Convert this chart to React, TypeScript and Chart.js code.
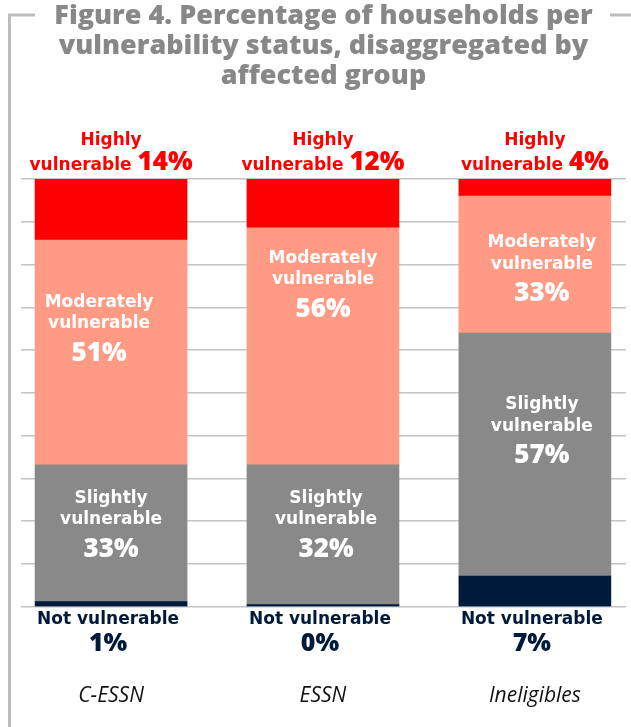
import React, { useEffect, useRef } from 'react';
import { Chart, registerables } from 'chart.js';

Chart.register(...registerables);

// ---------- data ----------
const categories = ['C-ESSN', 'ESSN', 'Ineligibles'];
const seriesNames = ['Not vulnerable', 'Slightly vulnerable', 'Moderately vulnerable', 'Highly vulnerable'];
const notVulnerable = [1.2, 0.5, 7.2];
const slightlyVulnerable = [32.0, 32.7, 56.8];
const moderatelyVulnerable = [52.5, 55.4, 32.0];
const highlyVulnerable = [14.3, 11.4, 4.0];
const notVulnerableLabels = ['1%', '0%', '7%'];
const slightlyLabels = ['33%', '32%', '57%'];
const moderatelyLabels = ['51%', '56%', '33%'];
const highlyLabels = ['14%', '12%', '4%'];
const titleLines = [
  'Figure 4. Percentage of households per',
  'vulnerability status, disaggregated by',
  'affected group',
];

// ---------- styles ----------
const colors = ['#001A3B', '#898989', '#FF9B85', '#FF0000'];
const WORD_FONT = '"DejaVu Sans"';
const NUM_FONT = '"Open Sans"';
const GRID_COLOR = '#c4c4c4';
const FRAME_COLOR = '#bdbdbd';
// label nudges [dx, dy from segment centre to first baseline]
const slightlyNudge = [[0, -30.5], [3, -32], [7, -45.5]];
const moderatelyNudge = [[-12, -45.5], [0, -83.5], [7, -17.5]];

const labelPlugin = {
  id: 'labelPlugin',
  beforeDraw(chart: any) {
    const ctx = chart.ctx;
    ctx.save();
    ctx.strokeStyle = FRAME_COLOR;
    ctx.lineWidth = 3;
    ctx.beginPath();
    ctx.moveTo(9.5, 727);
    ctx.lineTo(9.5, 15);
    ctx.lineTo(35, 15);
    ctx.moveTo(610, 15);
    ctx.lineTo(631, 15);
    ctx.stroke();
    ctx.restore();
  },
  afterDatasetsDraw(chart: any) {
    const ctx = chart.ctx;
    const area = chart.chartArea;
    ctx.save();
    ctx.textAlign = 'center';
    ctx.textBaseline = 'alphabetic';
    categories.forEach((_, i) => {
      const bars = [0, 1, 2, 3].map((d) => chart.getDatasetMeta(d).data[i]);
      const cx = bars[0].x;

      // not vulnerable – below bar
      ctx.fillStyle = colors[0];
      ctx.font = `bold 17px ${WORD_FONT}`;
      ctx.fillText(seriesNames[0], cx - 3, area.bottom + 17);
      ctx.font = `800 25px ${NUM_FONT}`;
      ctx.fillText(notVulnerableLabels[i], cx - 3, area.bottom + 44);

      // inside labels
      const inside = (bar: any, nudge: number[], l1: string, pct: string) => {
        const mid = (bar.y + bar.base) / 2;
        const b0 = mid + nudge[1];
        const x = cx + nudge[0];
        ctx.fillStyle = '#ffffff';
        ctx.font = `bold 17px ${WORD_FONT}`;
        ctx.fillText(l1, x, b0);
        ctx.fillText('vulnerable', x, b0 + 21.5);
        ctx.font = `800 26px ${NUM_FONT}`;
        ctx.fillText(pct, x, b0 + 54);
      };
      inside(bars[1], slightlyNudge[i], 'Slightly', slightlyLabels[i]);
      inside(bars[2], moderatelyNudge[i], 'Moderately', moderatelyLabels[i]);

      // highly – above bar
      const top = bars[3].y;
      ctx.fillStyle = colors[3];
      ctx.font = `bold 17px ${WORD_FONT}`;
      ctx.textAlign = 'center';
      ctx.fillText('Highly', cx, top - 34.5);
      const w1 = ctx.measureText('vulnerable ').width;
      ctx.font = `800 26px ${NUM_FONT}`;
      const w2 = ctx.measureText(highlyLabels[i]).width;
      const start = cx - (w1 + w2) / 2;
      ctx.textAlign = 'left';
      ctx.font = `bold 17px ${WORD_FONT}`;
      ctx.fillText('vulnerable ', start, top - 9);
      ctx.font = `800 26px ${NUM_FONT}`;
      ctx.fillText(highlyLabels[i], start + w1, top - 9);
      ctx.textAlign = 'center';
    });
    ctx.restore();
  },
};

export default function App() {
  const ref = useRef<HTMLCanvasElement>(null);
  useEffect(() => {
    document.body.style.margin = '0';
    const series = [notVulnerable, slightlyVulnerable, moderatelyVulnerable, highlyVulnerable];
    const chart = new Chart(ref.current!, {
      type: 'bar',
      data: {
        datasets: series.map((s, d) => ({
          label: seriesNames[d],
          data: s.map((v, i) => ({ x: i, y: v })),
          backgroundColor: colors[d],
          borderWidth: 0,
          barThickness: 152,
        })),
      },
      options: {
        animation: false,
        responsive: false,
        devicePixelRatio: 1,
        layout: { padding: { left: 21, right: 5, top: 0, bottom: 18 } },
        scales: {
          x: {
            type: 'linear',
            stacked: true,
            min: -0.425,
            max: 2.43,
            offset: false,
            grid: {
              display: true,
              drawOnChartArea: false,
              drawTicks: true,
              tickLength: 77,
              color: 'rgba(0,0,0,0)',
            },
            border: { display: false },
            afterBuildTicks: (scale: any) => {
              scale.ticks = categories.map((_, i) => ({ value: i }));
            },
            ticks: {
              autoSkip: false,
              maxRotation: 0,
              padding: 0,
              color: '#111111',
              font: { family: '"Open Sans"', size: 21, style: 'italic' },
              callback: (v: any) => categories[v] ?? '',
            },
          },
          y: {
            stacked: true,
            min: 0,
            max: 100,
            ticks: { display: false, stepSize: 10 },
            grid: { color: GRID_COLOR, lineWidth: 1.5, drawTicks: false },
            border: { display: false },
          },
        },
        plugins: {
          legend: { display: false },
          tooltip: { enabled: false },
          title: {
            display: true,
            text: titleLines,
            color: '#888888',
            font: { family: '"Open Sans"', size: 27, weight: 800, lineHeight: 30 / 27 },
            padding: { top: 1, bottom: 88 },
          },
        },
      },
      plugins: [labelPlugin],
    });
    return () => chart.destroy();
  }, []);
  return (
    <div style={{ width: 631, height: 727 }}>
      <canvas ref={ref} width={631} height={727} style={{ display: 'block' }} />
    </div>
  );
}
